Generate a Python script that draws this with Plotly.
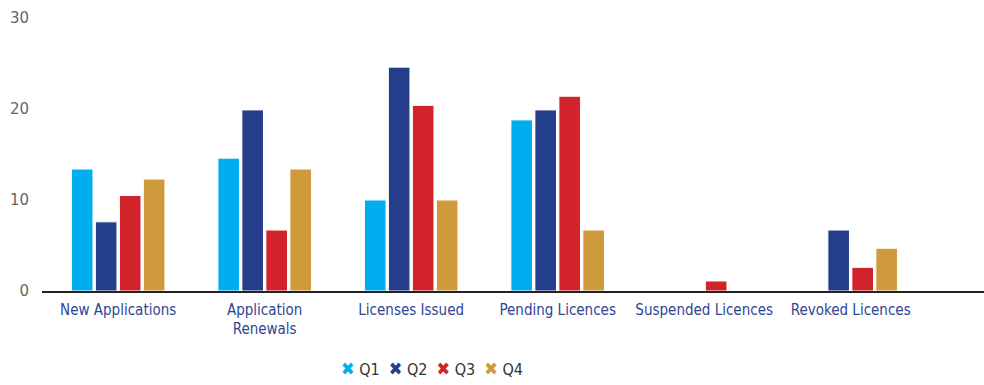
import plotly.graph_objects as go

categories = ["New Applications", "Application<br>Renewals", "Licenses Issued",
              "Pending Licences", "Suspended Licences", "Revoked Licences"]
q1 = [13.4, 14.6, 10.0, 18.8, 0, 0]
q2 = [7.6, 19.9, 24.6, 19.9, 0, 6.7]
q3 = [10.5, 6.7, 20.4, 21.4, 1.1, 2.6]
q4 = [12.3, 13.4, 10.0, 6.7, 0, 4.7]
series_names = ["Q1", "Q2", "Q3", "Q4"]
colors = ["#00AEEF", "#243E8C", "#D2232A", "#CF9A3C"]
y_ticks = [0, 10, 20, 30]

cond_font = "DejaVu Sans Condensed, Liberation Sans Narrow, sans-serif"

fig = go.Figure()
for name, vals, col in zip(series_names, [q1, q2, q3, q4], colors):
    fig.add_trace(go.Bar(
        x=categories, y=vals, name=name, showlegend=False,
        marker=dict(color=col, line=dict(color="white", width=1)),
    ))

legend_text = "&nbsp;&nbsp;".join(
    f'<span style="color:{c};font-size:18px">✖</span>&nbsp;{n}'
    for n, c in zip(series_names, colors)
)
fig.add_annotation(
    text=legend_text, xref="paper", yref="paper", x=0.414, y=-0.285,
    xanchor="center", yanchor="middle", showarrow=False,
    font=dict(family=cond_font, size=16, color="#333333"),
)

fig.update_layout(
    width=984, height=385,
    margin=dict(l=42, r=0, t=18, b=94),
    paper_bgcolor="white", plot_bgcolor="white",
    barmode="group", bargap=0.345, bargroupgap=0.1,
    showlegend=False,
    xaxis=dict(
        range=[-0.52, 5.91], showline=True, linecolor="#222222", linewidth=1.5,
        ticks="", showgrid=False, zeroline=False, automargin=False,
        tickfont=dict(family=cond_font, size=15, color="#2E4593"),
        ticklabelstandoff=4,
    ),
    yaxis=dict(
        range=[0, 30], tickvals=y_ticks, showgrid=False, zeroline=False, showline=False,
        automargin=False,
        tickfont=dict(family="DejaVu Sans, Verdana, sans-serif", size=15, color="#666666"),
        ticklabelstandoff=12,
    ),
)

fig.write_html("out.html")
